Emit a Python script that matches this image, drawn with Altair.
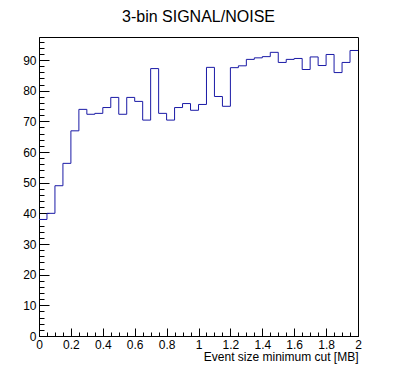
import altair as alt
import numpy as np
import pandas as pd

# Histogram contents (40 bins from 0 to 2 MB)
values = [38.0, 40.0, 49.0, 56.3, 66.9, 73.9, 72.3, 72.6, 74.5, 77.8,
          72.3, 77.8, 76.5, 70.4, 87.2, 72.6, 70.4, 74.5, 75.8, 73.6,
          75.5, 87.6, 78.1, 74.9, 87.5, 88.1, 90.2, 90.7, 91.1, 92.5,
          89.2, 90.2, 90.5, 86.9, 91.0, 88.2, 91.8, 85.9, 89.2, 93.1]
x_min, x_max, n_bins = 0.0, 2.0, 40
y_max = 97.5

x_major = [0, 0.2, 0.4, 0.6, 0.8, 1, 1.2, 1.4, 1.6, 1.8, 2]
y_major = [0, 10, 20, 30, 40, 50, 60, 70, 80, 90]
x_minor = [round(v, 2) for v in np.arange(0, 2.0001, 0.05)]
y_minor = list(range(0, 98, 2))

title_text = "3-bin SIGNAL/NOISE"
x_title = "Event size minimum cut [MB]"

W, H = 319, 299
FONT = "Liberation Sans"

edges = list(np.linspace(x_min, x_max, n_bins + 1))
df = pd.DataFrame({"edge": edges, "val": values + [values[-1]]})

xscale = alt.Scale(domain=[x_min, x_max], nice=False, zero=False)
yscale = alt.Scale(domain=[0, y_max], nice=False, zero=False)

base = alt.Chart(df)

line = base.mark_line(interpolate="step-after", color="#1a1aa6", strokeWidth=1).encode(
    x=alt.X("edge:Q", scale=xscale,
            axis=alt.Axis(orient="bottom", values=x_major, tickSize=0, ticks=False,
                          labelPadding=3, labelFontSize=12, format="~g",
                          labelFlush=False, labelOverlap=False, grid=False,
                          domainColor="black", title=x_title, titleFontSize=12,
                          titleFontWeight="normal", titleAlign="right",
                          titleAnchor="end", titleX=W, titleY=24,
                          titleBaseline="alphabetic")),
    y=alt.Y("val:Q", scale=yscale,
            axis=alt.Axis(orient="left", values=y_major, tickSize=0, ticks=False,
                          labelPadding=3, labelFontSize=12, labelFlush=False,
                          labelOverlap=False, grid=False, domainColor="black",
                          title=None)),
)

major = base.mark_point(opacity=0).encode(
    x=alt.X("edge:Q", scale=xscale,
            axis=alt.Axis(orient="top", offset=-H, values=x_major, tickSize=8,
                          labels=False, domain=False, grid=False, title=None,
                          tickColor="black")),
    y=alt.Y("val:Q", scale=yscale,
            axis=alt.Axis(orient="right", offset=-W, values=y_major, tickSize=10,
                          labels=False, domain=False, grid=False, title=None,
                          tickColor="black")),
)

minor = base.mark_point(opacity=0).encode(
    x=alt.X("edge:Q", scale=xscale,
            axis=alt.Axis(orient="top", offset=-H, values=x_minor, tickSize=4,
                          labels=False, domain=False, grid=False, title=None,
                          tickColor="black")),
    y=alt.Y("val:Q", scale=yscale,
            axis=alt.Axis(orient="right", offset=-W, values=y_minor, tickSize=5,
                          labels=False, domain=False, grid=False, title=None,
                          tickColor="black")),
)

chart = alt.layer(line, major, minor).resolve_axis(
    x="independent", y="independent"
).properties(
    width=W, height=H,
    autosize=alt.AutoSizeParams(type="none"),
    padding={"left": 31, "top": 29, "right": 20, "bottom": 30},
    title=alt.TitleParams(title_text, fontSize=16, font=FONT, fontWeight="normal",
                          anchor="middle", color="black", dy=-8),
).configure_view(
    stroke="black", strokeWidth=1
).configure_axis(
    labelFont=FONT, titleFont=FONT, labelColor="black", titleColor="black",
    tickColor="black", domainColor="black"
)

chart.save("out.html", embed_options={"renderer": "svg", "actions": False})
